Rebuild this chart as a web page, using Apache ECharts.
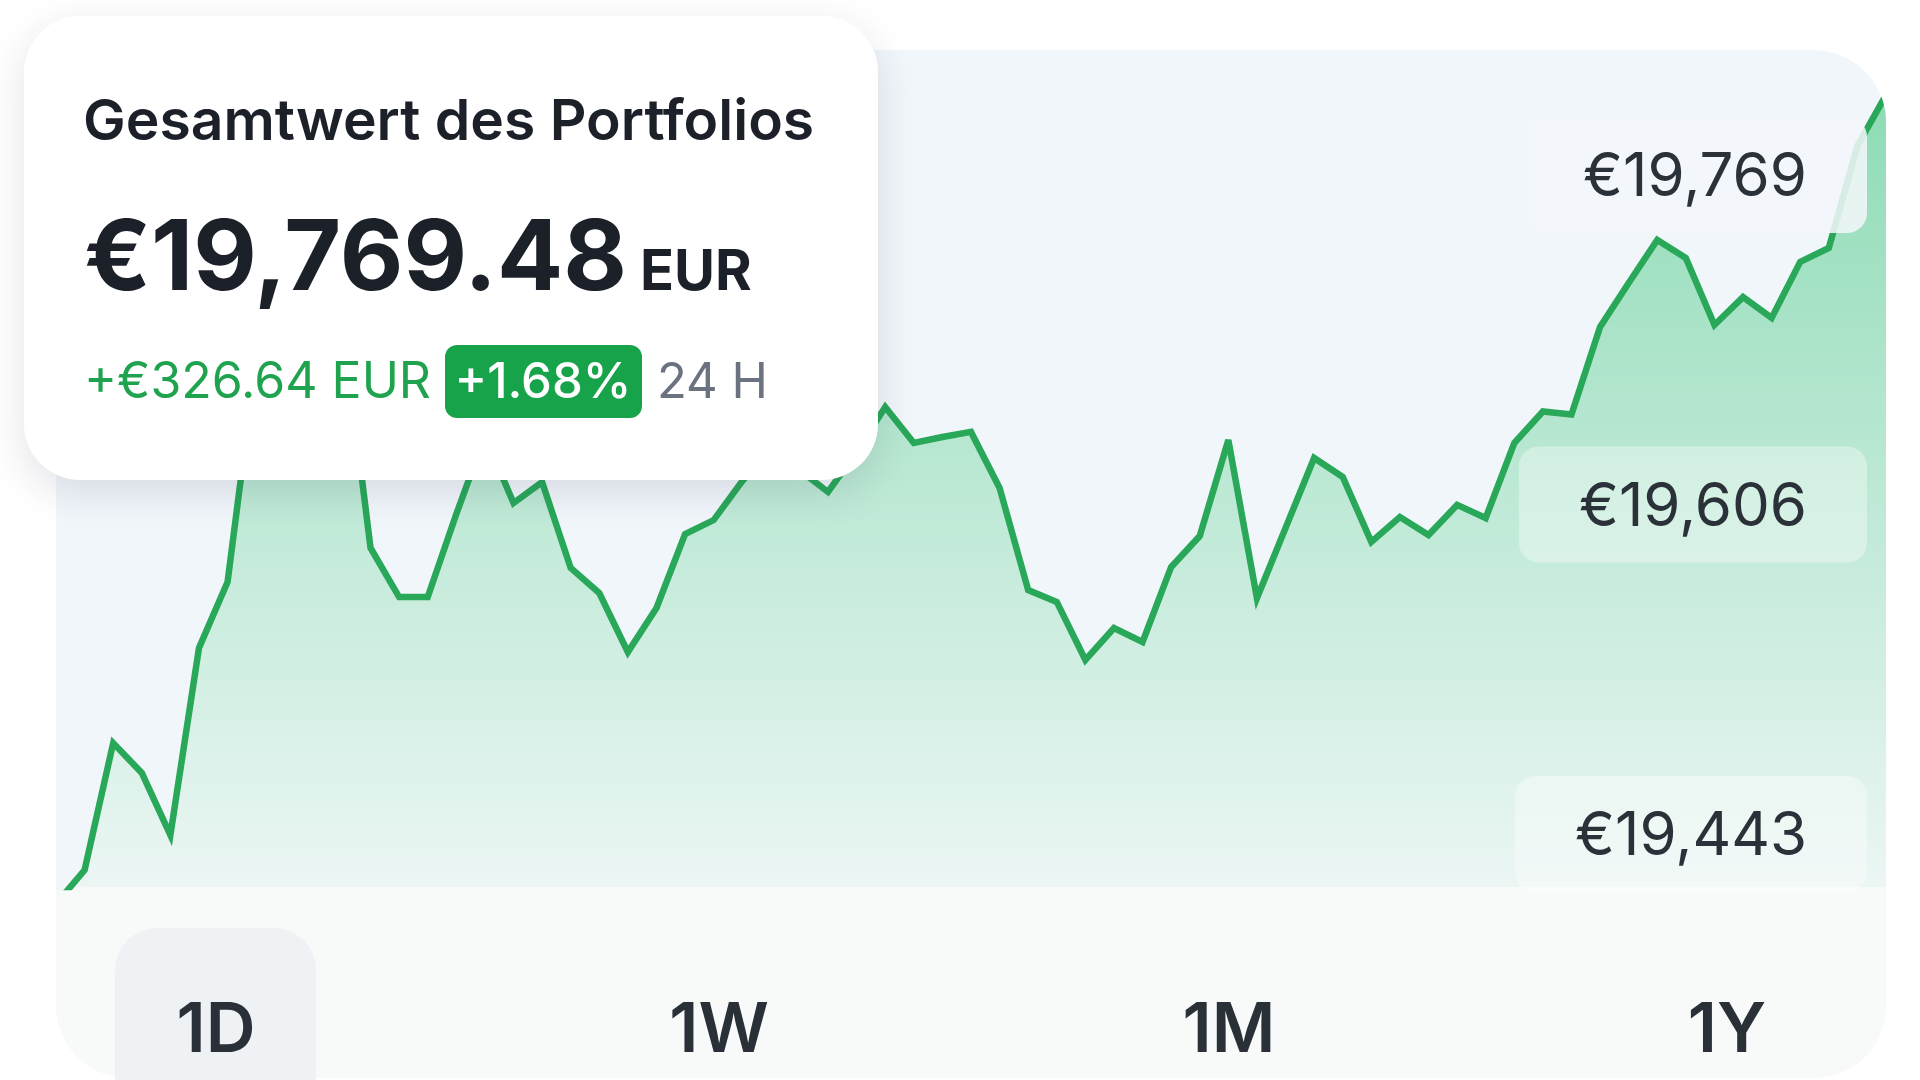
<!DOCTYPE html>
<html><head><meta charset="utf-8">
<script src="https://cdn.jsdelivr.net/npm/echarts@6/dist/echarts.min.js"></script>
<style>html,body{margin:0;padding:0;background:#ffffff;}#c{width:1920px;height:1080px;}</style>
</head><body><div id="c"></div>
<script>
// ---------- data ----------
const categories = ['0','1','2','3','4','5','6','7','8','9','10','11','12','13','14','15','16','17','18','19','20','21','22','23','24','25','26','27','28','29','30','31','32','33','34','35','36','37','38','39','40','41','42','43','44','45','46','47','48','49','50','51','52','53','54','55','56','57','58','59','60','61','62','63','64'];
const portfolioValues = [19408.4, 19425.2, 19488.0, 19473.2, 19442.5, 19535.0, 19567.7, 19677.5, 19692.3, 19682.4,
  19698.3, 19584.5, 19560.2, 19560.2, 19601.3, 19639.9, 19606.7, 19617.1, 19574.6, 19562.2,
  19533.0, 19554.8, 19591.4, 19598.3, 19617.6, 19633.0, 19623.1, 19612.2, 19632.0, 19654.2,
  19636.4, 19639.4, 19641.9, 19614.2, 19563.7, 19557.8, 19529.1, 19544.9, 19538.0, 19575.1,
  19590.4, 19637.9, 19559.7, 19594.4, 19629.0, 19619.6, 19587.5, 19599.8, 19590.9, 19605.8,
  19599.3, 19636.4, 19652.0, 19650.5, 19693.8, 19715.6, 19736.8, 19727.9, 19694.8, 19708.6,
  19698.3, 19726.0, 19732.9, 19783.3, 19808.6];
const axisTickValues = [19443, 19606, 19769];
const periods = ['1D', '1W', '1M', '1Y'];
const titleText = 'Gesamtwert des Portfolios';
const totalValueText = '€19,769.48';
const currencyText = 'EUR';
const changeAbsText = '+€326.64 EUR';
const changePctText = '+1.68%';
const changeWindowText = '24 H';

// ---------- layout ----------
const FONT = 'Inter, "Noto Sans", sans-serif';
const cardL = 56, cardT = 50, cardR = 1886, cardB = 1078, plotB = 887, R = 72;
const tabCenters = [216, 719, 1229, 1727];

const chart = echarts.init(document.getElementById('c'), null, {renderer: 'canvas'});

function txt(text, x, baseline, size, weight, color, align, z) {
  return {
    type: 'text', x: x, y: baseline - 0.3 * size, z: z || 60,
    style: {text: text, fontSize: size, fontWeight: weight, fontFamily: FONT, fill: color,
            align: align || 'left', verticalAlign: 'middle'}
  };
}

// corner mask polygon (white outside of the rounded top-right corner)
const maskPts = [[cardR + 4, cardT - 4], [cardR + 4, cardT + R]];
for (let k = 0; k <= 24; k++) {
  const a = (Math.PI / 2) * k / 24;
  maskPts.push([cardR - R + R * Math.cos(a), cardT + R - R * Math.sin(a)]);
}
maskPts.push([cardR - R, cardT - 4]);

const graphics = [
  {type: 'rect', z: 0, silent: true, shape: {x: cardL, y: cardT, width: cardR - cardL, height: plotB - cardT, r: [R, R, 0, 0]},
   style: {fill: '#f1f6fb'}},
  {type: 'rect', z: 0, silent: true, shape: {x: cardL, y: plotB, width: cardR - cardL, height: cardB - plotB, r: [0, 0, R, R]},
   style: {fill: '#f8fafa'}},
  {type: 'rect', z: 1, silent: true, shape: {x: 115, y: 928, width: 201, height: 200, r: [42, 42, 0, 0]},
   style: {fill: '#eef2f4'}},
  {type: 'polygon', z: 40, silent: true, shape: {points: maskPts}, style: {fill: '#ffffff'}},
  {type: 'rect', z: 50, silent: true, shape: {x: 24, y: 16, width: 854, height: 464, r: 56},
   style: {fill: '#ffffff', shadowBlur: 40, shadowOffsetY: 12, shadowColor: 'rgba(30,41,59,0.13)'}},
  txt(titleText, 83, 140, 57, 600, '#1c2129'),
  txt(totalValueText, 84, 290, 98, 700, '#1c2029'),
  txt(currencyText, 640, 290, 56, 700, '#1c2029'),
  txt(changeAbsText, 84, 398, 50, 400, '#1fa34f'),
  {type: 'rect', z: 55, silent: true, shape: {x: 445, y: 345, width: 197, height: 73, r: 12}, style: {fill: '#17a34a'}},
  txt(changePctText, 543, 398, 49, 500, '#ffffff', 'center'),
  txt(changeWindowText, 657, 398, 49, 400, '#6b7280')
];
periods.forEach(function (p, i) {
  graphics.push(txt(p, tabCenters[i], 1052, 69, 600, '#2a3038', 'center', 5));
});

const labelTok = {fontFamily: FONT, fontSize: 60, color: '#2b3139', lineHeight: 50,
  borderRadius: 20, padding: [31, 60, 25, 60]};

chart.setOption({
  animation: false,
  backgroundColor: '#ffffff',
  grid: {left: cardL, right: 1920 - cardR, top: cardT, bottom: 1080 - plotB, containLabel: false, outerBoundsMode: 'none'},
  xAxis: {
    type: 'category', data: categories, boundaryGap: false,
    axisLine: {show: false}, axisTick: {show: false}, axisLabel: {show: false}, splitLine: {show: false}
  },
  yAxis: {
    type: 'value', position: 'right', min: 19416.8, max: 19830.8, z: 10,
    axisLine: {show: false}, axisTick: {show: false}, splitLine: {show: false},
    axisLabel: {
      inside: true, customValues: axisTickValues, margin: 19,
      formatter: function (v) {
        const s = '€' + Math.round(v).toLocaleString('en-US');
        return (v === axisTickValues[2] ? '{hi|' : '{n|') + s + '}';
      },
      rich: {
        hi: Object.assign({backgroundColor: 'rgba(243,247,250,0.86)'}, labelTok),
        n: Object.assign({backgroundColor: 'rgba(255,255,255,0.36)'}, labelTok)
      }
    }
  },
  graphic: graphics,
  series: [{
    type: 'line', data: portfolioValues, symbol: 'none', z: 3,
    lineStyle: {color: '#29a85a', width: 6.5, join: 'miter', miterLimit: 4},
    areaStyle: {color: new echarts.graphic.LinearGradient(0, 0, 0, 1, [
      {offset: 0, color: '#64d098'}, {offset: 1, color: '#ecf7f3'}])}
  }]
});
</script></body></html>
